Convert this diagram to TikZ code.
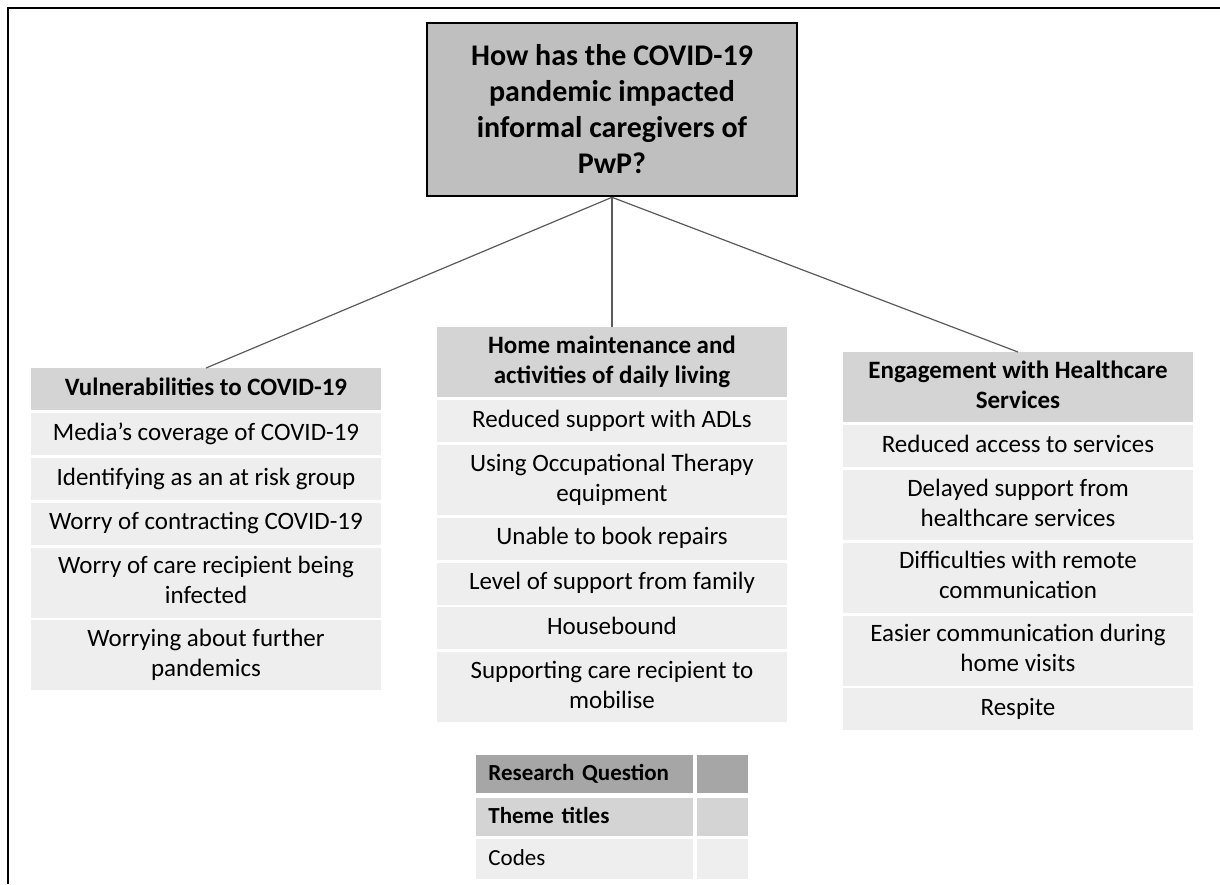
\documentclass[tikz,border=0pt]{standalone}
\usepackage{fontspec}
\setmainfont{Carlito}
\usetikzlibrary{positioning}
\definecolor{qGray}{HTML}{BFBFBF}
\definecolor{qDark}{HTML}{A6A6A6}
\definecolor{tGray}{HTML}{D4D4D4}
\definecolor{cGray}{HTML}{EEEEEE}
\definecolor{lGray}{HTML}{5A5A5A}
\tikzset{
  qbox/.style={draw=black, line width=1.3pt, fill=qGray, minimum width=185pt,
               minimum height=86.5pt, align=flush center, inner sep=0pt,
               font=\fontsize{15}{18}\selectfont\bfseries},
  tbox/.style={fill=tGray, minimum width=175pt, text width=172pt,
               align=flush center, minimum height=21pt, inner sep=0pt,
               font=\fontsize{12.5}{15}\selectfont\bfseries,
               execute at begin node=\strut, execute at end node=\strut},
  cbox/.style={tbox, fill=cGray, font=\fontsize{12.5}{15}\selectfont},
  tall/.style={minimum height=35pt},
  qedge/.style={lGray, line width=0.6pt},
  lbox/.style={minimum height=19pt, text width=96.5pt, inner xsep=6pt,
               inner ysep=0pt, align=left, font=\fontsize{11.5}{15}\selectfont,
               execute at begin node=\strut},
  lside/.style={minimum width=25.5pt, minimum height=19pt, inner sep=0pt},
}
\begin{document}
\begin{tikzpicture}[x=0.5pt, y=-0.5pt]
    \useasboundingbox (0,0) rectangle (1220,884);
    \draw[line width=1.2pt] (8,884) -- (8,8) -- (1220,8);
    % research question
    \node[qbox] (rq) at (612,109.5)
      {How has the COVID-19\\pandemic impacted\\informal caregivers of\\PwP?};
    % themes
    \node[tbox, anchor=north] (vuln) at (206,368) {Vulnerabilities to COVID-19};
    \node[cbox, below=1pt of vuln] (v1) {Media's coverage of COVID-19};
    \node[cbox, below=1pt of v1] (v2) {Identifying as an at risk group};
    \node[cbox, below=1pt of v2] (v3) {Worry of contracting COVID-19};
    \node[cbox, tall, below=1pt of v3] (v4) {Worry of care recipient being\\infected};
    \node[cbox, tall, below=1pt of v4] (v5) {Worrying about further\\pandemics};

    \node[tbox, tall, anchor=north] (home) at (612,327)
      {Home maintenance and\\activities of daily living};
    \node[cbox, below=1pt of home] (h1) {Reduced support with ADLs};
    \node[cbox, tall, below=1pt of h1] (h2) {Using Occupational Therapy\\equipment};
    \node[cbox, below=1pt of h2] (h3) {Unable to book repairs};
    \node[cbox, below=1pt of h3] (h4) {Level of support from family};
    \node[cbox, below=1pt of h4] (h5) {Housebound};
    \node[cbox, tall, below=1pt of h5] (h6) {Supporting care recipient to\\mobilise};

    \node[tbox, tall, anchor=north] (health) at (1018,352)
      {Engagement with Healthcare\\Services};
    \node[cbox, below=1pt of health] (s1) {Reduced access to services};
    \node[cbox, tall, below=1pt of s1] (s2) {Delayed support from\\healthcare services};
    \node[cbox, tall, below=1pt of s2] (s3) {Difficulties with remote\\communication};
    \node[cbox, tall, below=1pt of s3] (s4) {Easier communication during\\home visits};
    \node[cbox, below=1pt of s4] (s5) {Respite};

    \draw[qedge] (rq.south) -- (vuln.north);
    \draw[qedge] (rq.south) -- (home.north);
    \draw[qedge] (rq.south) -- (health.north);
    % key
    \node[lbox, fill=qDark, anchor=north west,
          font=\fontsize{11.5}{15}\selectfont\bfseries] (kq) at (476,755) {Research Question};
    \node[lside, fill=qDark, right=1.5pt of kq] (kq2) {};
    \node[lbox, fill=tGray, below=2pt of kq,
          font=\fontsize{11.5}{15}\selectfont\bfseries] (kt) {Theme titles};
    \node[lside, fill=tGray, right=1.5pt of kt] (kt2) {};
    \node[lbox, fill=cGray, minimum height=20pt, below=1pt of kt] (kc) {Codes};
    \node[lside, fill=cGray, minimum height=20pt, right=1.5pt of kc] (kc2) {};
\end{tikzpicture}
\end{document}
